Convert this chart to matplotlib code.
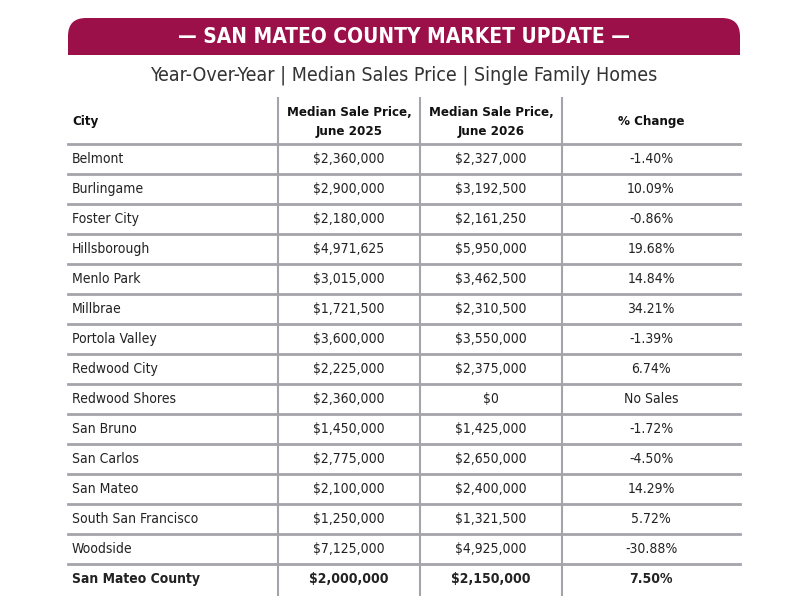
import matplotlib
matplotlib.use("Agg")
import matplotlib.pyplot as plt
from matplotlib.patches import FancyBboxPatch, Rectangle

title = "— SAN MATEO COUNTY MARKET UPDATE —"
subtitle = "Year-Over-Year | Median Sales Price | Single Family Homes"
headers = ["City", "Median Sale Price,\nJune 2025", "Median Sale Price,\nJune 2026", "% Change"]
cities = ["Belmont", "Burlingame", "Foster City", "Hillsborough", "Menlo Park", "Millbrae",
          "Portola Valley", "Redwood City", "Redwood Shores", "San Bruno", "San Carlos",
          "San Mateo", "South San Francisco", "Woodside", "San Mateo County"]
price_2025 = ["$2,360,000", "$2,900,000", "$2,180,000", "$4,971,625", "$3,015,000", "$1,721,500",
              "$3,600,000", "$2,225,000", "$2,360,000", "$1,450,000", "$2,775,000", "$2,100,000",
              "$1,250,000", "$7,125,000", "$2,000,000"]
price_2026 = ["$2,327,000", "$3,192,500", "$2,161,250", "$5,950,000", "$3,462,500", "$2,310,500",
              "$3,550,000", "$2,375,000", "$0", "$1,425,000", "$2,650,000", "$2,400,000",
              "$1,321,500", "$4,925,000", "$2,150,000"]
pct_change = ["-1.40%", "10.09%", "-0.86%", "19.68%", "14.84%", "34.21%", "-1.39%", "6.74%",
              "No Sales", "-1.72%", "-4.50%", "14.29%", "5.72%", "-30.88%", "7.50%"]

plt.rcParams['font.family'] = ['DejaVu Sans']
fig = plt.figure(figsize=(8, 6), dpi=100)
ax = fig.add_axes([0, 0, 1, 1])
ax.set_xlim(0, 800); ax.set_ylim(600, 0); ax.axis('off')

red = "#9B1048"
ax.add_patch(FancyBboxPatch((68, 18), 672, 40, boxstyle="round,pad=0,rounding_size=18",
                            fc=red, ec='none'))
ax.add_patch(Rectangle((68, 36), 672, 19, fc=red, ec='none'))
ax.add_patch(Rectangle((60, 55), 690, 10, fc='white', ec='none'))
ax.text(404, 37, title, color='white', fontsize=15, fontweight='bold', ha='center', va='center',
        fontstretch='condensed')
ax.text(404, 75, subtitle, color='#333333', fontsize=14, ha='center', va='center',
        fontstretch='condensed')

xl, xr = 68, 740
vx = [278, 420, 562]
cx = [72, 349, 491, 651]
line_c = "#a4a4aa"
for x in vx:
    ax.plot([x, x], [98, 595], color=line_c, lw=1.5)
for k in range(15):
    y = 144 + 30 * k
    ax.plot([xl, xr], [y, y], color=line_c, lw=2)

for j, h in enumerate(headers):
    ax.text(cx[j], 122, h, ha='left' if j == 0 else 'center', va='center', fontsize=9.5,
            fontweight='bold', color='#111111', linespacing=1.5, fontstretch='condensed')

for i in range(len(cities)):
    y = 159 + 30 * i
    bold = i == len(cities) - 1
    vals = [cities[i], price_2025[i], price_2026[i], pct_change[i]]
    for j, v in enumerate(vals):
        ax.text(cx[j], y, v, ha='left' if j == 0 else 'center', va='center', fontsize=10,
                fontweight='bold' if bold else 'normal', color='#222222', fontstretch='condensed')

fig.savefig("out.png", dpi=100, facecolor='white')
